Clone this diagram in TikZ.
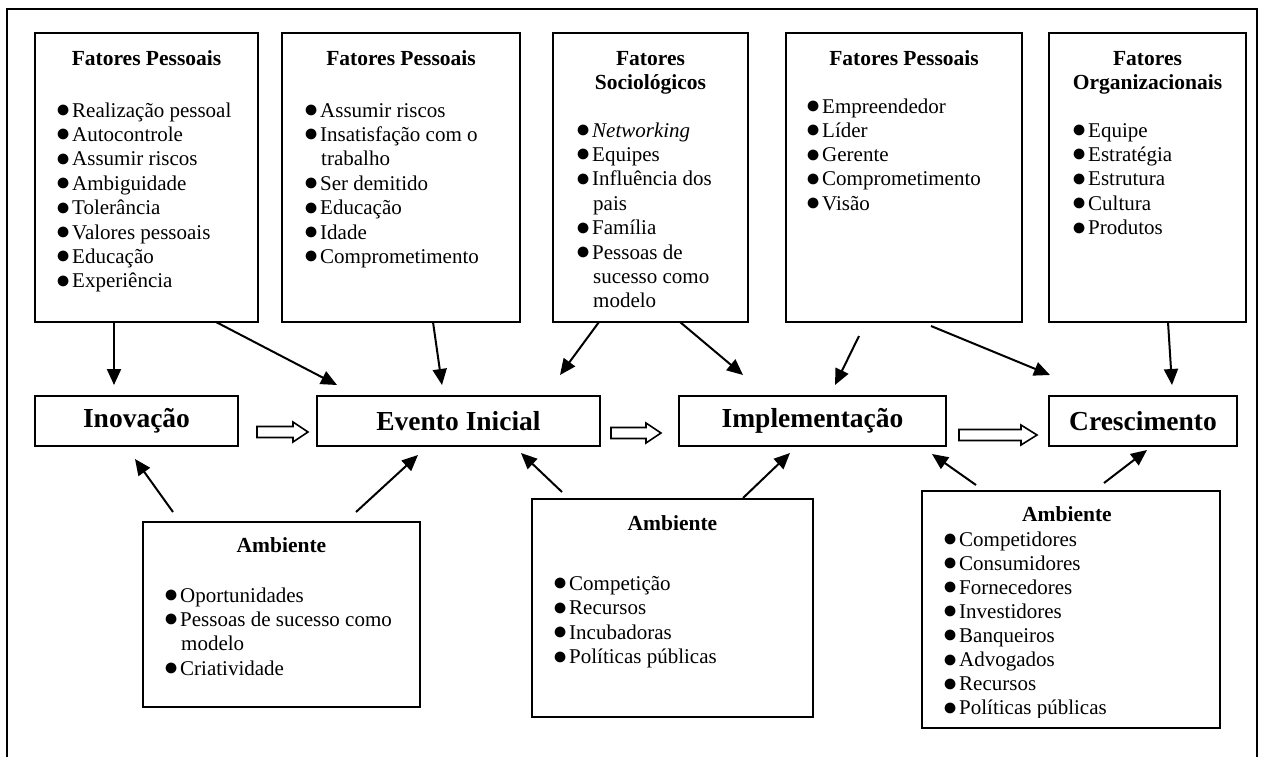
\documentclass[tikz,border=0pt]{standalone}
\usepackage{fontspec}
\setmainfont{Liberation Serif}
\usetikzlibrary{arrows.meta,calc}

% bullet and hanging indent for list lines
\newcommand\bul{\makebox[15pt][l]{\hspace*{-1.5pt}\smash{\raisebox{-0.5pt}{\fontsize{25}{24}\selectfont●}}}}
\newcommand\cont{\hspace*{16pt}}

% one node per list line: name, x, first baseline, line pitch, lines
\newcommand\itemlist[5]{%
  \foreach \txt [count=\k] in {#5}
    \node[itm] (#1-\k) at (#2,{#3+(\k-1)*#4}) {\txt};}

\begin{document}
\begin{tikzpicture}[x=1pt,y=-1pt,
  frame/.style={line width=2pt},
  box/.style={draw, line width=1.8pt, rectangle, inner sep=0pt, outer sep=0pt, anchor=north west},
  stage/.style={box, font=\fontsize{27.5}{30}\selectfont\bfseries},
  ttl/.style={anchor=base, inner sep=0pt, font=\fontsize{21.5}{24}\selectfont\bfseries},
  itm/.style={anchor=base west, inner sep=0pt, font=\fontsize{21}{24}\selectfont},
  arr/.style={line width=2pt, -{Triangle[length=16pt,width=14pt]}},
  hol/.style={draw, line width=1.6pt, fill=white, line join=miter}
]
\useasboundingbox (0,0) rectangle (1262,756);
\clip (0,0) rectangle (1262,756);
\fill[white] (0,0) rectangle (1262,756);

% outer frame (open at the bottom edge of the page)
\draw[frame] (7,770) -- (7,9) -- (1257,9) -- (1257,770);

% factor boxes along the top
\node[box, minimum width=223pt, minimum height=289pt] (f1) at (35,33) {};
\node[box, minimum width=238pt, minimum height=289pt] (f2) at (282,33) {};
\node[box, minimum width=195pt, minimum height=289pt] (f3) at (553,33) {};
\node[box, minimum width=236pt, minimum height=289pt] (f4) at (786,33) {};
\node[box, minimum width=197pt, minimum height=289pt] (f5) at (1049,33) {};

% process stages
\node[stage, minimum width=203pt, minimum height=50pt] (inov) at (35,396) {Inovação};
\node[stage, minimum width=283pt, minimum height=50pt] (evento) at (317,396) {Evento Inicial};
\node[stage, minimum width=267pt, minimum height=50pt] (impl) at (679,396) {Implementação};
\node[stage, minimum width=188pt, minimum height=50pt] (cresc) at (1049,396) {Crescimento};

% environment boxes along the bottom
\node[box, minimum width=277pt, minimum height=185pt] (a1) at (143,522) {};
\node[box, minimum width=281pt, minimum height=218pt] (a2) at (532,499) {};
\node[box, minimum width=298pt, minimum height=237pt] (a3) at (922,491) {};

% box titles
\node[ttl] (f1t) at ($(f1.north)+(0,32)$) {Fatores Pessoais};
\node[ttl] (f2t) at ($(f2.north)+(0,32)$) {Fatores Pessoais};
\node[ttl] (f3t) at ($(f3.north)+(0,32)$) {Fatores};
\node[ttl] (f3u) at ($(f3.north)+(0,56)$) {Sociológicos};
\node[ttl] (f4t) at ($(f4.north)+(0,32)$) {Fatores Pessoais};
\node[ttl] (f5t) at ($(f5.north)+(0,32)$) {Fatores};
\node[ttl] (f5u) at ($(f5.north)+(0,56)$) {Organizacionais};
\node[ttl] (a1t) at ($(a1.north)+(0,30)$) {Ambiente};
\node[ttl] (a2t) at ($(a2.north)+(0,31)$) {Ambiente};
\node[ttl] (a3t) at ($(a3.north)+(-4,30)$) {Ambiente};

% lists
\itemlist{f1l}{57}{117}{24.4}{\bul Realização pessoal,\bul Autocontrole,\bul Assumir riscos,\bul Ambiguidade,\bul Tolerância,\bul Valores pessoais,\bul Educação,\bul Experiência}
\itemlist{f2l}{305}{117}{24.4}{\bul Assumir riscos,\bul Insatisfação com o,\cont trabalho,\bul Ser demitido,\bul Educação,\bul Idade,\bul Comprometimento}
\itemlist{f3l}{577}{137}{24.4}{\bul\textit{Networking},\bul Equipes,\bul Influência dos,\cont pais,\bul Família,\bul Pessoas de,\cont sucesso como,\cont modelo}
\itemlist{f4l}{807}{113}{24.3}{\bul Empreendedor,\bul Líder,\bul Gerente,\bul Comprometimento,\bul Visão}
\itemlist{f5l}{1073}{137}{24.4}{\bul Equipe,\bul Estratégia,\bul Estrutura,\bul Cultura,\bul Produtos}
\itemlist{a1l}{165}{602}{24.4}{\bul Oportunidades,\bul Pessoas de sucesso como,\cont modelo,\bul Criatividade}
\itemlist{a2l}{554}{590}{24.6}{\bul Competição,\bul Recursos,\bul Incubadoras,\bul Políticas públicas}
\begin{scope}
  \clip (a3.north west) rectangle ($(a3.south east)+(0,-11)$);
  \itemlist{a3l}{944}{546}{24.1}{\bul Competidores,\bul Consumidores,\bul Fornecedores,\bul Investidores,\bul Banqueiros,\bul Advogados,\bul Recursos,\bul Políticas públicas}
\end{scope}

% influences from the factor boxes
\draw[arr] ($(f1.south west)+(79,0)$) -- ($(inov.north west)+(79,-11)$);
\draw[arr] ($(f1.south west)+(181,0)$) -- ($(evento.north west)+(20,-11)$);
\draw[arr] ($(f2.south west)+(151,0)$) -- ($(evento.north west)+(125,-11)$);
\draw[arr] ($(f3.south west)+(46,0)$) -- ($(evento.north east)+(-40,-21)$);
\draw[arr] ($(f3.south west)+(127,0)$) -- ($(impl.north west)+(64,-21)$);
\draw[arr] ($(f4.south west)+(73,14)$) -- ($(impl.north west)+(156,-11)$);
\draw[arr] ($(f4.south west)+(145,4)$) -- ($(cresc.north west)+(1,-21)$);
\draw[arr] ($(f5.south west)+(119,0)$) -- ($(cresc.north west)+(123,-11)$);

% influences from the environment boxes
\draw[arr] ($(a1.north west)+(30,-10)$) -- ($(inov.south west)+(100,13)$);
\draw[arr] ($(a1.north west)+(213,-10)$) -- ($(evento.south west)+(101,9)$);
\draw[arr] ($(a2.north west)+(30,-7)$) -- ($(evento.south west)+(204,7)$);
\draw[arr] ($(a2.north west)+(211,-1)$) -- ($(impl.south west)+(111,7)$);
\draw[arr] ($(a3.north west)+(54,-6)$) -- ($(impl.south east)+(-14,8)$);
\draw[arr] ($(a3.north west)+(182,-8)$) -- ($(cresc.south west)+(98,4)$);

% hollow arrows between the stages
\draw[hol] ($(inov.east)+(19,11)$) ++(0,-5.5) -- ++(36,0) -- ++(0,-4.5) -- ++(15,10) -- ++(-15,10) -- ++(0,-4.5) -- ++(-36,0) -- cycle;
\draw[hol] ($(evento.east)+(11,12)$) ++(0,-5.5) -- ++(35,0) -- ++(0,-4.5) -- ++(15,10) -- ++(-15,10) -- ++(0,-4.5) -- ++(-35,0) -- cycle;
\draw[hol] ($(impl.east)+(13,14)$) ++(0,-5.5) -- ++(62,0) -- ++(0,-4.5) -- ++(16,10) -- ++(-16,10) -- ++(0,-4.5) -- ++(-62,0) -- cycle;
\end{tikzpicture}
\end{document}
